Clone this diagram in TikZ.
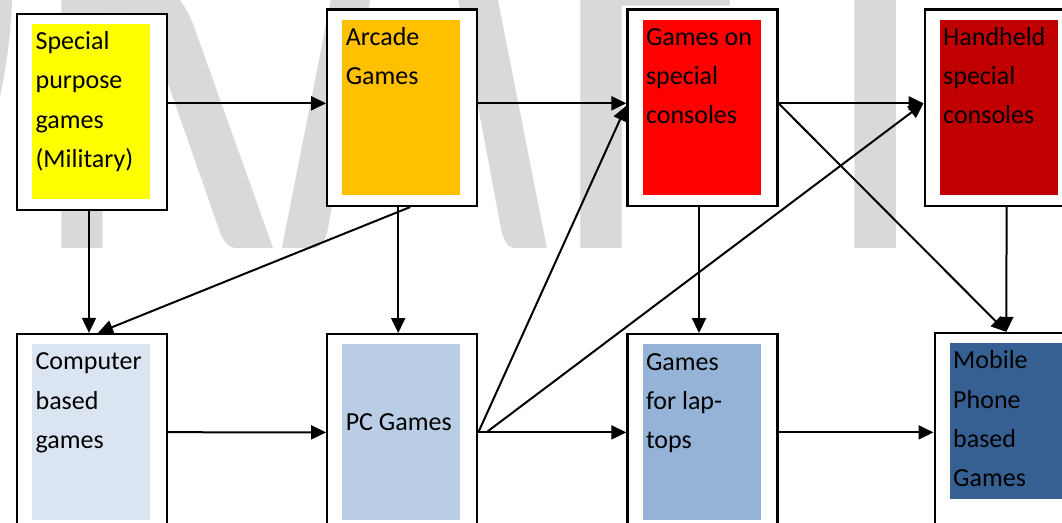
\documentclass[tikz,border=0pt]{standalone}
\usepackage{fontspec}
\setmainfont{Carlito}
\usetikzlibrary{positioning, calc, arrows.meta}

\definecolor{wmgray}{RGB}{217,217,217}
\definecolor{milyellow}{RGB}{255,255,0}
\definecolor{arcorange}{RGB}{255,192,0}
\definecolor{conred}{RGB}{255,0,0}
\definecolor{handred}{RGB}{192,0,0}
\definecolor{compblue}{RGB}{219,229,241}
\definecolor{pcblue}{RGB}{185,205,229}
\definecolor{lapblue}{RGB}{149,179,215}
\definecolor{mobblue}{RGB}{54,96,146}

\begin{document}
\begin{tikzpicture}[x=1pt, y=-1pt,
    box/.style={draw, line width=2.2pt, fill=white, minimum width=150pt, minimum height=196.5pt, inner sep=0pt},
    pane/.style={anchor=north west, minimum width=118pt, minimum height=175.5pt, inner sep=0pt},
    txt/.style={anchor=base west, inner sep=0pt, text width=114pt, align=flush left, font=\fontsize{26}{39.3}\selectfont},
    arr/.style={-{Triangle[length=15pt, width=14pt]}, line width=2pt}]
    \useasboundingbox (0,0) rectangle (1062,522);
    \clip (0,0) rectangle (1062,522);
    \node[anchor=base west, inner sep=0pt, text=wmgray, font=\fontsize{464}{464}\selectfont] (wm) at (-256.7,248) {\scalebox{1}[1.9]{DRAFT}};

    % top row
    \node[box] (A) at (92,112) {};
    \node[box, right=158pt of A, yshift=4.3pt] (B) {};
    \node[box, right=148pt of B] (C) {};
    \node[box, right=145pt of C] (D) {};
    % bottom row
    \node[box, below=121.5pt of A] (E) {};
    \node[box, below=126pt of B] (F) {};
    \node[box, below=126pt of C] (G) {};
    \node[box, below=124.8pt of D, xshift=10pt] (H) {};

    \node[pane, fill=milyellow] (Ai) at ($(A.north west)+(16,11)$) {};
    \node[pane, fill=arcorange] (Bi) at ($(B.north west)+(16,11)$) {};
    \node[pane, fill=conred] (Ci) at ($(C.north west)+(16,11)$) {};
    \node[pane, fill=handred] (Di) at ($(D.north west)+(16,11)$) {};
    \node[pane, fill=compblue] (Ei) at ($(E.north west)+(16,11)$) {};
    \node[pane, fill=pcblue] (Fi) at ($(F.north west)+(16,11)$) {};
    \node[pane, fill=lapblue] (Gi) at ($(G.north west)+(16,11)$) {};
    \node[pane, fill=mobblue, minimum height=156pt] (Hi) at ($(H.north west)+(16,11)$) {};

    \node[txt] (At) at ($(Ai.north west)+(3.5,26)$) {Special\\purpose\\games\\(Military)};
    \node[txt] (Bt) at ($(Bi.north west)+(3.5,26)$) {Arcade\\Games};
    \node[txt] (Ct) at ($(Ci.north west)+(3.5,26)$) {Games on\\special\\consoles};
    \node[txt] (Dt) at ($(Di.north west)+(3.5,26)$) {Handheld\\special\\consoles};
    \node[txt] (Et) at ($(Ei.north west)+(3.5,26)$) {Computer\\based\\games};
    \node[txt] (Ft) at ($(Fi.north west)+(3.5,86)$) {PC Games};
    \node[txt] (Gt) at ($(Gi.north west)+(3.5,26)$) {Games\\for lap-\\tops};
    \node[txt] (Ht) at ($(Hi.north west)+(3.5,26)$) {Mobile\\Phone\\based\\Games};

    \path[arr]
    ([yshift=8.7pt]A.east) edge ([yshift=4.4pt]B.west)
    ([yshift=4.4pt]B.east) edge ([yshift=4.4pt]C.west)
    ([yshift=4.4pt]C.east) edge ([yshift=4.4pt]D.west)
    ([xshift=-3pt]A.south) edge ([xshift=-3pt]E.north)
    ([xshift=8pt]B.south) edge ([xshift=6pt]E.north)
    ([xshift=-4pt]B.south) edge ([xshift=-4pt]F.north)
    ([xshift=-3.4pt]C.south) edge ([xshift=-3.4pt]G.north)
    ([xshift=7pt]D.south) edge ([xshift=-3.3pt]H.north)
    ([yshift=4.4pt]C.east) edge ([xshift=-3.3pt]H.north)
    ;

    \path[arr]
    (E.east) edge (F.west)
    (F.east) edge (G.west)
    (G.east) edge (G.east -| H.west)
    (F.east) edge ([yshift=2pt]C.west)
    ([xshift=8pt]F.east) edge ([yshift=4.4pt]D.west)
    ;
\end{tikzpicture}
\end{document}
